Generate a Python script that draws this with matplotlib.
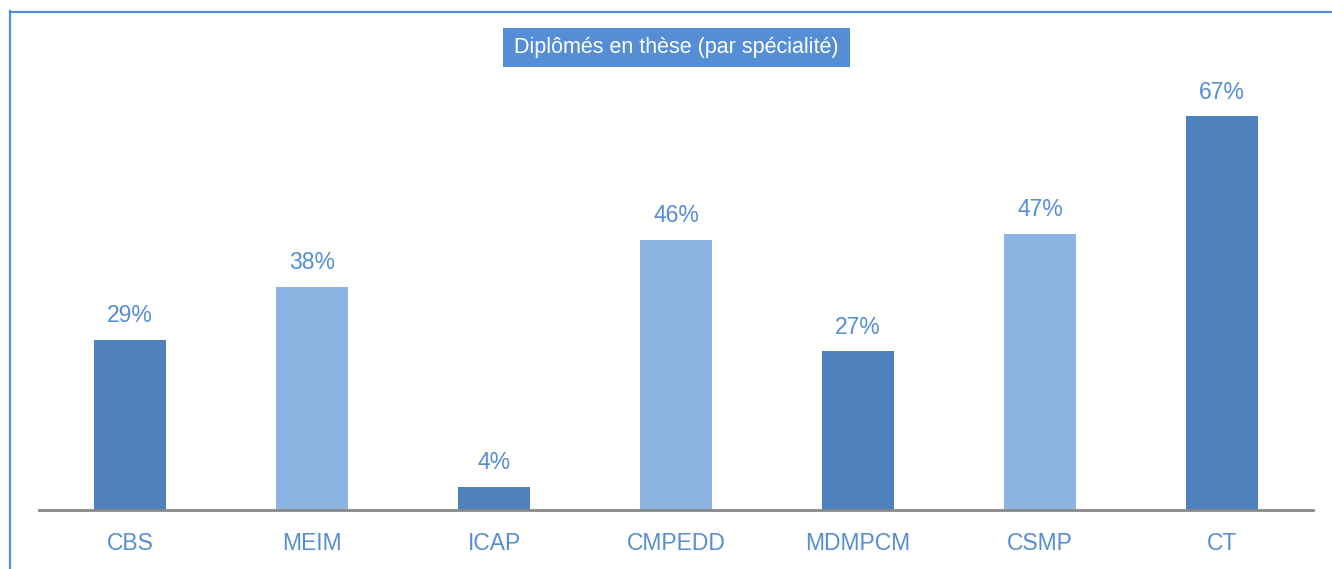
import matplotlib.pyplot as plt
from matplotlib.lines import Line2D
from matplotlib.patches import Rectangle

# data
categories = ['CBS', 'MEIM', 'ICAP', 'CMPEDD', 'MDMPCM', 'CSMP', 'CT']
values = [29, 38, 4, 46, 27, 47, 67]

dark = '#4F81BD'
light = '#8EB4E3'
text_blue = '#558ED5'
bar_colors = [dark, light, dark, light, dark, light, dark]

plt.rcParams['font.family'] = ['Liberation Sans', 'DejaVu Sans']

W, H = 1332, 569
fig = plt.figure(figsize=(W / 100, H / 100), dpi=100)
ax = fig.add_axes([39 / W, 59 / H, (1313 - 39) / W, 470 / H])

x = range(len(categories))
bars = ax.bar(x, values, width=0.4, color=bar_colors)
for rect, v in zip(bars, values):
    ax.annotate(f'{v}%', (rect.get_x() + rect.get_width() / 2, v),
                xytext=(0, 9), textcoords='offset points',
                ha='center', va='bottom', fontsize=16.5, color=text_blue)

ax.set_xlim(-0.5, len(categories) - 0.5)
ax.set_ylim(0, 80)
ax.set_xticks(list(x))
ax.set_xticklabels(categories, fontsize=16.5, color=text_blue)
ax.tick_params(axis='x', length=0, pad=16)
ax.set_yticks([])
for s in ['top', 'right', 'left']:
    ax.spines[s].set_visible(False)
ax.spines['bottom'].set_color('#898989')
ax.spines['bottom'].set_linewidth(2)

# title in a blue box
fig.add_artist(Rectangle((503 / W, 1 - 67 / H), (850 - 503) / W, 39 / H,
                         transform=fig.transFigure, fc=text_blue, ec='none'))
fig.text(676 / W, 1 - 48 / H, 'Diplômés en thèse (par spécialité)',
         ha='center', va='center', fontsize=15.5, color='white')

# frame lines (left and top edges)
fig.add_artist(Line2D([10.5 / W, 10.5 / W], [0, 1 - 11 / H],
                      transform=fig.transFigure, color=text_blue, lw=1.6))
fig.add_artist(Line2D([9.5 / W, 1], [1 - 11.5 / H, 1 - 11.5 / H],
                      transform=fig.transFigure, color=text_blue, lw=1.6))

fig.savefig('out.png', dpi=100)
